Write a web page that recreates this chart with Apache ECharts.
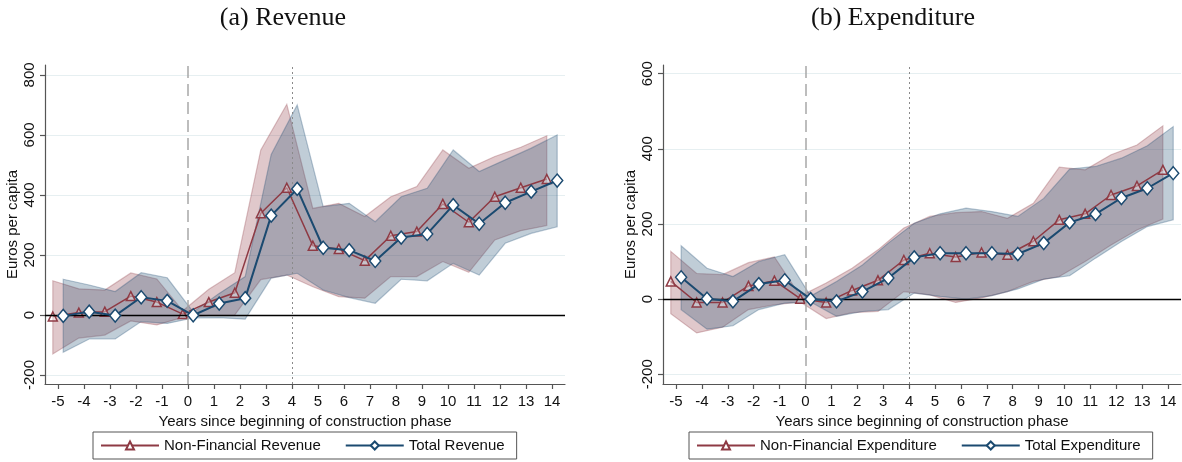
<!DOCTYPE html>
<html>
<head>
<meta charset="utf-8">
<script src="https://cdn.jsdelivr.net/npm/echarts@6/dist/echarts.min.js"></script>
<style>
html,body{margin:0;padding:0;background:#fff;}
#chart{width:1182px;height:462px;}
</style>
</head>
<body>
<div id="chart"></div>
<script>
// ---------- data ----------
const years = [-5,-4,-3,-2,-1,0,1,2,3,4,5,6,7,8,9,10,11,12,13,14];
const yTicksRev = [-200,0,200,400,600,800];
const yTicksExp = [-200,0,200,400,600];

const revNF    = [-5, 8, 11, 63, 43, 3, 43, 74, 339, 424, 231, 220, 181, 264, 278, 370, 309, 394, 424, 453];
const revNFLo  = [-130, -77, -67, -20, -33, -8, -1, 0, 118, 133, 94, 61, 56, 128, 128, 178, 142, 250, 281, 298];
const revNFHi  = [114, 87, 83, 140, 120, 14, 86, 141, 550, 702, 355, 372, 328, 394, 428, 550, 489, 528, 559, 597];
const revTot   = [-3, 11, -2, 59, 47, -1, 38, 56, 331, 420, 224, 216, 180, 258, 270, 366, 304, 374, 411, 448];
const revTotLo = [-124, -80, -80, -22, -28, -10, -9, -14, 123, 139, 83, 58, 39, 119, 114, 172, 133, 239, 272, 294];
const revTotHi = [119, 100, 78, 141, 124, 10, 72, 128, 535, 700, 361, 372, 311, 394, 422, 550, 478, 517, 556, 600];

const expNF    = [47, -9, -9, 35, 49, 1, -9, 23, 50, 104, 122, 112, 124, 118, 154, 211, 227, 277, 301, 344];
const expNFLo  = [-39, -90, -75, -28, -15, -8, -52, -36, -33, 20, 11, -9, 3, 20, 47, 60, 100, 144, 184, 213];
const expNFHi  = [127, 68, 65, 97, 112, 8, 43, 82, 131, 189, 220, 230, 233, 215, 255, 351, 344, 384, 410, 461];
const expTot   = [58, 1, -6, 40, 50, 0, -6, 20, 56, 111, 122, 122, 122, 120, 149, 204, 226, 269, 295, 335];
const expTotLo = [-28, -80, -71, -28, -11, -8, -46, -33, -28, 16, 7, 0, 9, 27, 53, 62, 109, 153, 193, 211];
const expTotHi = [142, 82, 60, 100, 118, 8, 47, 91, 149, 202, 227, 242, 233, 220, 268, 346, 353, 375, 408, 459];

// ---------- style ----------
const RED = '#8e3a44';
const BLUE = '#1b4a70';
const OFF = 0.2;
const SANS = 'Liberation Sans, Arial, sans-serif';
const SERIF = 'Liberation Serif, Times New Roman, serif';
const xsRed = years.map(y => y - OFF);
const xsBlue = years.map(y => y + OFF);

function band(name, xs, lo, hi, fill, stroke, idx) {
  return {
    type: 'custom', name: name, xAxisIndex: idx, yAxisIndex: idx, z: 2,
    silent: true, clip: true,
    data: xs.map((x, i) => [x, lo[i], hi[i]]),
    encode: { x: 0, y: [1, 2] },
    renderItem: function (params, api) {
      if (params.dataIndex !== 0) return { type: 'group', children: [] };
      const pts = [];
      for (let i = 0; i < xs.length; i++) pts.push(api.coord([xs[i], hi[i]]));
      for (let i = xs.length - 1; i >= 0; i--) pts.push(api.coord([xs[i], lo[i]]));
      return { type: 'polygon', shape: { points: pts }, style: { fill: fill, stroke: stroke, lineWidth: 1.2 } };
    }
  };
}

function lineSeries(name, xs, vals, color, symbol, size, fill, lw, idx, marks) {
  const s = {
    type: 'line', name: name, xAxisIndex: idx, yAxisIndex: idx, z: marks ? 5 : 4,
    data: xs.map((x, i) => [x, vals[i]]),
    symbol: symbol, symbolSize: size, showAllSymbol: true,
    lineStyle: { color: color, width: lw },
    itemStyle: { color: fill, borderColor: color, borderWidth: 1.5 },
    emphasis: { disabled: true }, animation: false
  };
  if (marks) {
    s.markLine = {
      silent: true, symbol: ['none', 'none'], animation: false,
      label: { show: false },
      data: [
        { yAxis: 0, lineStyle: { color: '#000', width: 1.3, type: 'solid' } },
        { xAxis: 0, lineStyle: { color: '#a8a8a8', width: 1.5, type: [12, 6] } },
        { xAxis: 4, lineStyle: { color: '#8a8a8a', width: 1, type: [2, 3] } }
      ]
    };
  }
  return s;
}

function xAxis(idx) {
  return {
    type: 'value', gridIndex: idx, min: -5.5, max: 14.5,
    name: 'Years since beginning of construction phase',
    nameLocation: 'middle', nameGap: 25,
    nameTextStyle: { fontFamily: SANS, fontSize: 15, color: '#111' },
    axisLine: { onZero: false, lineStyle: { color: '#555', width: 1.2 } },
    axisTick: { show: true, length: 5, lineStyle: { color: '#555', width: 1.2 }, customValues: years },
    axisLabel: { customValues: years, fontFamily: SANS, fontSize: 15, color: '#111', margin: 10 },
    splitLine: { show: false }
  };
}
function yAxis(idx, min, max, ticks) {
  return {
    type: 'value', gridIndex: idx, min: min, max: max,
    name: 'Euros per capita', nameLocation: 'middle', nameGap: 25, nameRotate: 90,
    nameTextStyle: { fontFamily: SANS, fontSize: 15, color: '#111' },
    axisLine: { show: true, onZero: false, lineStyle: { color: '#555', width: 1.2 } },
    axisTick: { show: true, length: 5, lineStyle: { color: '#555', width: 1.2 }, customValues: ticks },
    axisLabel: { customValues: ticks, rotate: 90, fontFamily: SANS, fontSize: 15, color: '#111', margin: 8 },
    splitLine: { show: true, lineStyle: { color: '#e6eff1', width: 1.2 } }
  };
}

const redFill = 'rgba(142,58,68,0.28)', redStroke = 'rgba(142,58,68,0.30)';
const blueFill = 'rgba(27,74,112,0.28)', blueStroke = 'rgba(27,74,112,0.30)';

function legend(left, names) {
  return {
    left: left, top: 432, orient: 'horizontal',
    data: names.map(n => ({ name: n, itemStyle: { color: '#fff' } })),
    itemWidth: 58, itemHeight: 10, itemGap: 24, padding: [6, 12, 6, 7],
    borderColor: '#555', borderWidth: 1, borderRadius: 0,
    textStyle: { fontFamily: SANS, fontSize: 15, color: '#111' },
    selectedMode: false
  };
}

const chart = echarts.init(document.getElementById('chart'), null, { renderer: 'canvas' });
chart.setOption({
  animation: false,
  backgroundColor: '#fff',
  grid: [
    { left: 45, top: 65, width: 520, height: 319 },
    { left: 663, top: 65, width: 518, height: 319 }
  ],
  xAxis: [xAxis(0), xAxis(1)],
  yAxis: [yAxis(0, -230, 833, yTicksRev), yAxis(1, -226, 623, yTicksExp)],
  graphic: [
    { type: 'text', x: 283, y: 18, style: { text: '(a) Revenue', font: '26px ' + SERIF, fill: '#111', textAlign: 'center', textVerticalAlign: 'middle' } },
    { type: 'text', x: 893, y: 18, style: { text: '(b) Expenditure', font: '26px ' + SERIF, fill: '#111', textAlign: 'center', textVerticalAlign: 'middle' } }
  ],
  legend: [
    legend(93, ['Non-Financial Revenue', 'Total Revenue']),
    legend(689, ['Non-Financial Expenditure', 'Total Expenditure'])
  ],
  series: [
    band('band-rev-nf', xsRed, revNFLo, revNFHi, redFill, redStroke, 0),
    band('band-rev-tot', xsBlue, revTotLo, revTotHi, blueFill, blueStroke, 0),
    lineSeries('Non-Financial Revenue', xsRed, revNF, RED, 'triangle', 9, 'rgba(255,255,255,0.35)', 1.5, 0, false),
    lineSeries('Total Revenue', xsBlue, revTot, BLUE, 'diamond', [11, 13], '#fff', 2, 0, true),
    band('band-exp-nf', xsRed, expNFLo, expNFHi, redFill, redStroke, 1),
    band('band-exp-tot', xsBlue, expTotLo, expTotHi, blueFill, blueStroke, 1),
    lineSeries('Non-Financial Expenditure', xsRed, expNF, RED, 'triangle', 9, 'rgba(255,255,255,0.35)', 1.5, 1, false),
    lineSeries('Total Expenditure', xsBlue, expTot, BLUE, 'diamond', [11, 13], '#fff', 2, 1, true)
  ]
});
</script>
</body>
</html>
